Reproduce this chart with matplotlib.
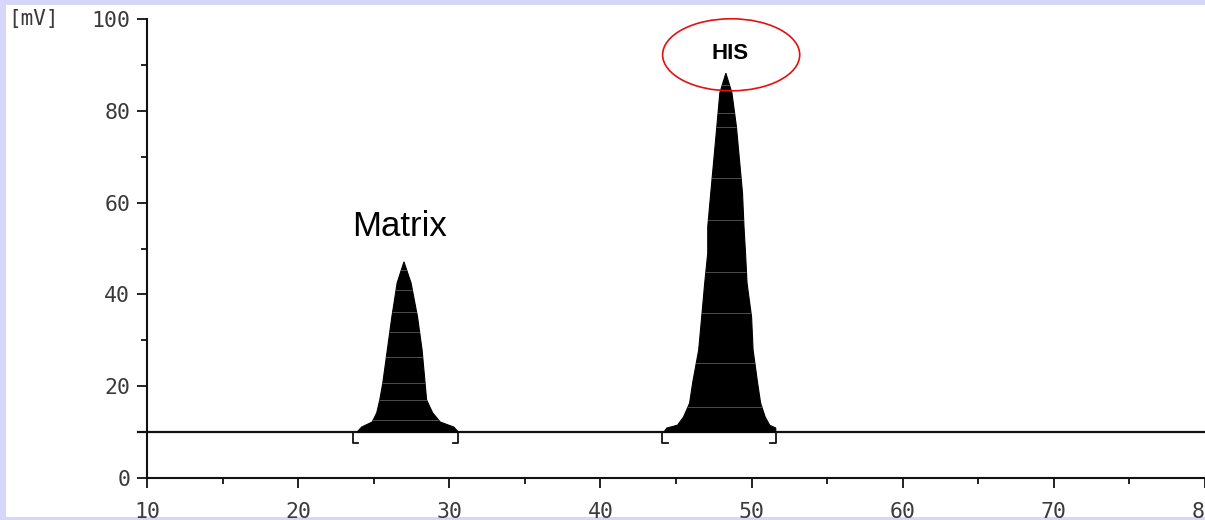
import matplotlib
matplotlib.use('Agg')
import matplotlib.pyplot as plt
import numpy as np
from matplotlib.patches import Ellipse, Rectangle, Polygon

# detector baseline level and time range (min, mV)
baseline_mv = 10.0
baseline_start = 9.4
baseline_end = 80.0

# peak outlines: signal level and the left / right retention times at that level
matrix_levels = [10.0, 11.1, 12.2, 14.2, 17.0, 20.7, 27.9, 35.1, 42.5, 47.1]
matrix_left = [23.9, 24.2, 24.9, 25.2, 25.4, 25.6, 25.9, 26.2, 26.55, 27.0]
matrix_right = [30.6, 30.3, 29.4, 28.9, 28.5, 28.4, 28.2, 27.9, 27.47, 27.0]

his_levels = [10.0, 10.9, 11.5, 13.3, 16.3, 20.7, 27.9, 35.1, 42.5, 49.0, 54.7, 62.1, 69.3, 76.5, 83.9, 88.2]
his_left = [44.2, 44.4, 45.1, 45.5, 45.9, 46.1, 46.5, 46.7, 46.9, 47.1, 47.1, 47.3, 47.5, 47.7, 47.9, 48.3]
his_right = [51.6, 51.6, 51.2, 50.9, 50.6, 50.4, 50.1, 50.0, 49.7, 49.6, 49.5, 49.4, 49.2, 49.0, 48.7, 48.3]

# integration window markers
matrix_window = [23.6, 30.6]
his_window = [44.1, 51.6]

# light scan lines inside the filled peaks
matrix_scan = [45.3, 41.0, 36.2, 31.8, 26.4, 20.7, 17.0, 12.6]
his_scan = [85.6, 79.5, 76.5, 65.4, 56.2, 44.9, 35.9, 25.1, 15.5]

x_major = [10, 20, 30, 40, 50, 60, 70, 80]
y_major = [0, 20, 40, 60, 80, 100]

ink = '#111111'
label_col = '#3a3a3a'

fig = plt.figure(figsize=(12.05, 5.2), dpi=100, facecolor='#d6d6f8')
fig.patches.append(Rectangle((6 / 1205, 3 / 520), 1, 1 - 8 / 520, transform=fig.transFigure,
                             facecolor='white', edgecolor='none', zorder=-5))

ax = fig.add_axes([147 / 1205, 42 / 520, 1058 / 1205, 459 / 520])
ax.set_facecolor('none')
ax.set_xlim(10, 80)
ax.set_ylim(0, 100)

for side in ['top', 'right']:
    ax.spines[side].set_visible(False)
for side in ['left', 'bottom']:
    ax.spines[side].set_linewidth(1.5)
    ax.spines[side].set_color(ink)

ax.set_xticks(x_major)
ax.set_xticks(np.arange(15, 80, 10), minor=True)
ax.set_yticks(y_major)
ax.set_yticks(np.arange(10, 100, 20), minor=True)
ax.tick_params(which='major', length=7, width=1.3, color=ink, labelcolor=label_col,
               labelsize=15.5)
ax.tick_params(which='minor', length=4.5, width=1.3, color=ink)
ax.tick_params(axis='x', which='major', pad=10)
ax.tick_params(axis='y', which='major', pad=5)
for lbl in ax.get_xticklabels() + ax.get_yticklabels():
    lbl.set_fontfamily('DejaVu Sans Mono')

ax.text(-0.131, 1.0, '[mV]', transform=ax.transAxes, ha='left', va='center',
        fontsize=15, family='DejaVu Sans Mono', color=label_col)

# baseline
ax.plot([baseline_start, baseline_end], [baseline_mv, baseline_mv], color=ink, lw=1.6,
        clip_on=False, zorder=3)

# filled peaks
for levels, left, right, scan in [(matrix_levels, matrix_left, matrix_right, matrix_scan),
                                  (his_levels, his_left, his_right, his_scan)]:
    xs = list(left) + list(right[::-1])
    ys = list(levels) + list(levels[::-1])
    poly = Polygon(np.column_stack([xs, ys]), closed=True, facecolor='black',
                   edgecolor='black', lw=0.8, zorder=4)
    ax.add_patch(poly)
    for lev in scan:
        ln, = ax.plot([left[0], right[0]], [lev, lev], color='white', lw=0.7, alpha=0.3,
                      zorder=5)
        ln.set_clip_path(poly)

# integration brackets below the baseline
depth = 2.4
foot = 0.35
for start, end in [matrix_window, his_window]:
    ax.plot([start, start, start + foot], [baseline_mv, baseline_mv - depth, baseline_mv - depth],
            color=ink, lw=1.3, zorder=3)
    ax.plot([end, end, end - foot], [baseline_mv, baseline_mv - depth, baseline_mv - depth],
            color=ink, lw=1.3, zorder=3)

ax.text(26.7, 54.7, 'Matrix', ha='center', va='center', fontsize=25,
        family='Liberation Sans', color='black')
ax.text(48.6, 92.4, 'HIS', ha='center', va='center', fontsize=16, fontweight='bold',
        family='Liberation Sans', color='black')
ax.add_patch(Ellipse((48.65, 92.2), 9.07, 15.7, facecolor='none', edgecolor='#e41010',
                     lw=1.2, clip_on=False, zorder=6))

fig.savefig('out.png', dpi=100, facecolor=fig.get_facecolor())
